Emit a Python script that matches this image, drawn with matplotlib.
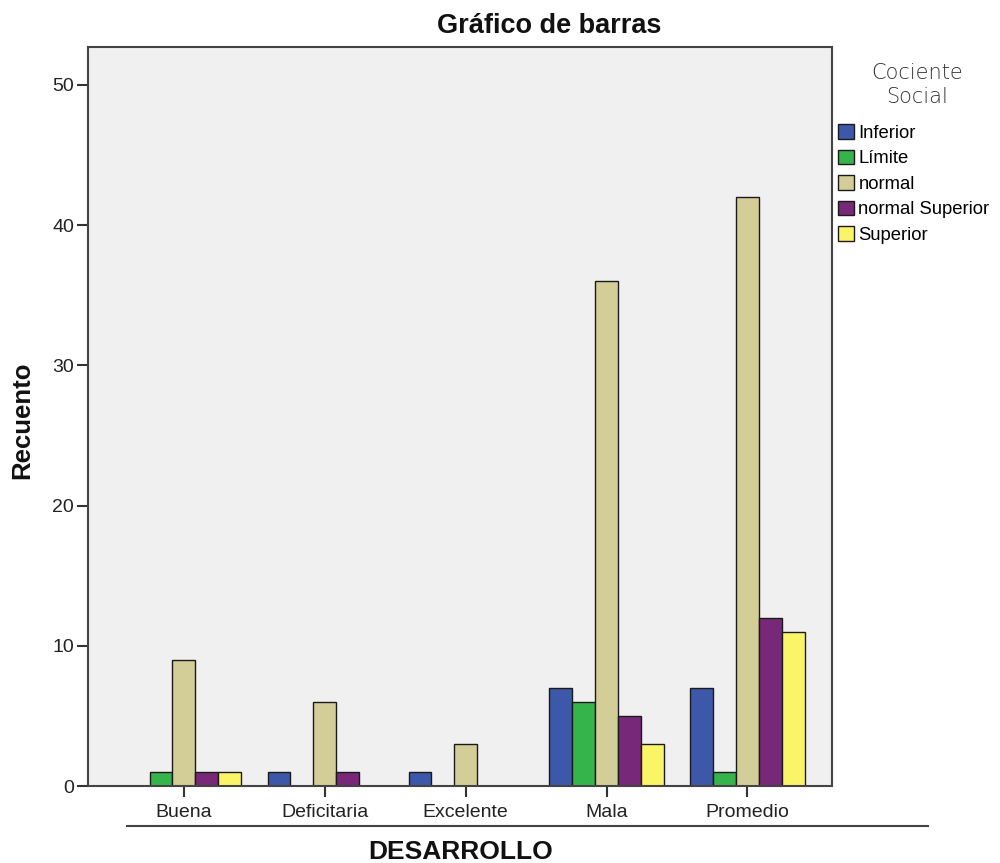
import matplotlib
matplotlib.use("Agg")
import matplotlib.pyplot as plt
import numpy as np
from matplotlib.lines import Line2D

plt.rcParams['font.family'] = ['Liberation Sans', 'DejaVu Sans']

categories = ["Buena", "Deficitaria", "Excelente", "Mala", "Promedio"]
series_names = ["Inferior", "Límite", "normal", "normal Superior", "Superior"]
inferior = [0, 1, 1, 7, 7]
limite = [1, 0, 0, 6, 1]
normal = [9, 6, 3, 36, 42]
normal_superior = [1, 1, 0, 5, 12]
superior = [1, 0, 0, 3, 11]
series = [inferior, limite, normal, normal_superior, superior]
colors = ["#3D58A8", "#34B44A", "#D3CE97", "#782878", "#FAF567"]

fig = plt.figure(figsize=(10, 8.63), dpi=100)
ax = fig.add_axes([0.088, 0.0892, 0.744, 0.8563])
ax.set_facecolor("#F0F0F0")

x = np.arange(len(categories))
w = 0.162
for i, (vals, c, name) in enumerate(zip(series, colors, series_names)):
    offs = (i - 2) * w
    ax.bar(x + offs, vals, width=w, color=c, edgecolor="#1a1a1a", linewidth=1.0, label=name)

ax.set_xlim(-0.68, 4.6)
ax.set_ylim(0, 52.7)
ax.set_yticks([0, 10, 20, 30, 40, 50])
ax.set_xticks(x)
ax.set_xticklabels(categories)
ax.tick_params(axis='both', direction='out', length=8, width=1.5, color="#333333", labelcolor="#222222")
ax.tick_params(axis='x', labelsize=14, pad=5)
ax.tick_params(axis='y', labelsize=14, pad=2)
for s in ax.spines.values():
    s.set_color("#444444")
    s.set_linewidth(1.5)

fig.text(0.549, 1 - 26 / 863, "Gráfico de barras", fontsize=19.5, fontweight='bold',
         ha='center', va='center', color="#111111")
fig.text(22 / 1000, 1 - 420 / 863, "Recuento", fontsize=18.5, fontweight='bold', rotation=90,
         ha='center', va='center', color="#111111")
fig.text(0.461, 1 - 852 / 863, "DESARROLLO", fontsize=19, fontweight='bold',
         ha='center', va='center', color="#111111")

fig.add_artist(Line2D([0.127, 0.928], [0.0429, 0.0429], transform=fig.transFigure, color="#444444", linewidth=1.5))

fig.text(0.917, 1 - 73 / 863, "Cociente", fontsize=15, family="DejaVu Sans", fontweight='light',
         ha='center', va='center', color="#333333")
fig.text(0.917, 1 - 97 / 863, "Social", fontsize=15, family="DejaVu Sans", fontweight='light',
         ha='center', va='center', color="#333333")

leg = ax.legend(loc='upper left', bbox_to_anchor=(0.838, 1 - 124 / 863), bbox_transform=fig.transFigure,
                frameon=False, fontsize=13.3,
                handlelength=0.85, handleheight=0.85, handletextpad=0.25, labelspacing=0.42,
                borderaxespad=0, borderpad=0)

fig.savefig("out.png", dpi=100)
